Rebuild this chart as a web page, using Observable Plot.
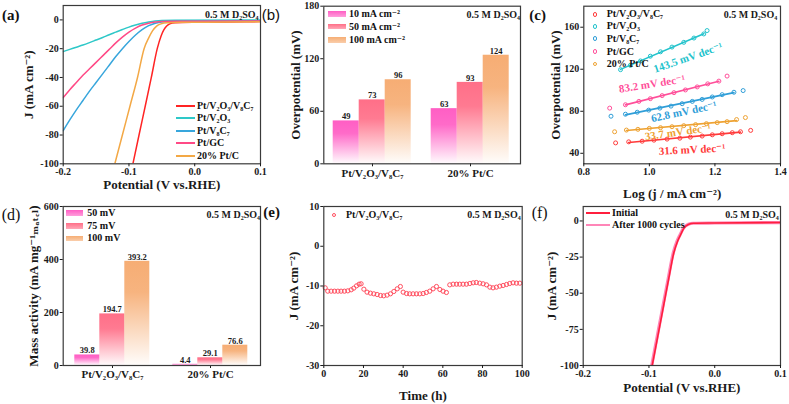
<!DOCTYPE html>
<html><head><meta charset="utf-8">
<script src="https://cdn.jsdelivr.net/npm/d3@7"></script>
<script src="https://cdn.jsdelivr.net/npm/@observablehq/plot@0.6"></script>
<style>
html,body{margin:0;padding:0;background:#fff;}
#root{position:relative;width:789px;height:404px;overflow:hidden;background:#fff;font-family:"Liberation Serif","Times New Roman","DejaVu Serif",serif;font-weight:bold;color:#111;}
.t{position:absolute;white-space:nowrap;line-height:1;}
.sw{position:absolute;box-sizing:border-box;}
</style></head><body><div id="root"></div>
<script>
// ---------------- DATA ----------------
// (a) LSV curves: [potential V, J mA cm-2]
const lsvNames = ["Pt/V₂O₃/V₈C₇","Pt/V₂O₃","Pt/V₈C₇","Pt/GC","20% Pt/C"];
const lsvColors = ["#ff2424","#2ec8c8","#38a6dc","#ff4a86","#f3a845"];
const lsvPtV2O3V8C7 = [[-0.094,-100],[-0.0847,-80],[-0.0753,-60],[-0.066,-40],[-0.057,-20],[-0.051,-11],[-0.047,-7],[-0.043,-4.5],[-0.038,-2.8],[-0.03,-2],[0,-1.6],[0.05,-1.4],[0.1,-1.2]];
const lsvPtV2O3 = [[-0.2,-22],[-0.19,-20.5],[-0.18,-19],[-0.17,-17.5],[-0.16,-15.8],[-0.15,-14],[-0.14,-12.2],[-0.13,-10.3],[-0.12,-8.5],[-0.11,-6.7],[-0.1,-5],[-0.09,-3.6],[-0.08,-2.4],[-0.07,-1.5],[-0.06,-0.8],[-0.05,-0.4],[-0.03,-0.2],[0.1,-0.1]];
const lsvPtV8C7 = [[-0.2,-77],[-0.19,-69.5],[-0.18,-62.5],[-0.17,-56],[-0.16,-49.5],[-0.15,-43.5],[-0.14,-37.5],[-0.13,-31.5],[-0.12,-25.5],[-0.11,-20],[-0.1,-15],[-0.09,-10.5],[-0.08,-6.8],[-0.07,-4],[-0.06,-2.3],[-0.05,-1.4],[-0.03,-0.9],[0.1,-0.7]];
const lsvPtGC = [[-0.2,-54],[-0.19,-48.5],[-0.18,-43.5],[-0.17,-38.5],[-0.16,-34],[-0.15,-29.5],[-0.14,-25],[-0.13,-20.5],[-0.12,-16],[-0.11,-12],[-0.1,-8.5],[-0.09,-5.7],[-0.08,-3.6],[-0.07,-2.3],[-0.06,-1.5],[-0.05,-1.1],[-0.03,-0.9],[0.1,-0.8]];
const lsvPtC20 = [[-0.1215,-100],[-0.11,-80],[-0.0985,-60],[-0.087,-40],[-0.077,-20],[-0.07,-12.5],[-0.064,-7.5],[-0.058,-4.3],[-0.051,-2.7],[-0.042,-2],[-0.02,-1.7],[0.05,-1.5],[0.1,-1.3]];

// (b) overpotential (mV)
const etaCats = ["Pt/V₂O₃/V₈C₇","20% Pt/C"];
const etaSeries = ["10 mA cm⁻²","50 mA cm⁻²","100 mA cm⁻²"];
const etaPtV = [49,73,96];
const etaPtC = [63,93,124];
const barColors = ["#ff5ec4","#ff6f88","#f6ad74"];

// (c) Tafel: [log j, overpotential mV]
const tafelNames = ["Pt/V₂O₃/V₈C₇","Pt/V₂O₃","Pt/V₈C₇","Pt/GC","20% Pt/C"];
const tafelColors = ["#ff3b3b","#22c3cc","#2f9ed8","#ff4f9a","#eea232"];
const tafelPtV2O3V8C7 = [[0.897,49.9],[0.937,50.9],[0.978,51.5],[1.014,52.5],[1.054,53.5],[1.093,54.4],[1.125,55.4],[1.161,56.4],[1.192,57.6],[1.222,58.6],[1.253,59.6],[1.278,60.5],[1.309,61.8]];
const tafelPtV2O3 = [[0.912,119.6],[0.942,123.7],[0.973,127.9],[1.003,132.4],[1.034,136.6],[1.069,141.1],[1.105,145.6],[1.136,149.7],[1.166,153.6],[1.176,156.8]];
const tafelPtV8C7 = [[0.883,75.3],[0.927,77.2],[0.963,79.1],[0.998,81.1],[1.032,83.0],[1.066,84.9],[1.1,87.2],[1.131,89.4],[1.161,91.3],[1.192,93.6],[1.222,95.8],[1.258,98.1],[1.286,99.7]];
const tafelPtGC = [[0.879,83.0],[0.927,86.2],[0.968,89.4],[1.003,92.0],[1.039,94.9],[1.075,97.7],[1.110,100.3],[1.146,103.2],[1.178,106.1],[1.212,108.7],[1.237,113.5]];
const tafelPtC20 = [[0.894,60.5],[0.930,62.1],[0.965,62.8],[1.0,63.7],[1.034,64.4],[1.069,65.3],[1.105,66.3],[1.141,67.3],[1.174,68.2],[1.207,69.2],[1.237,70.1],[1.266,72.1],[1.293,74.0]];
const tafelFit = [[1,11],[0,8],[1,11],[1,9],[1,11]];
const slopeLabels = ["31.6 mV dec⁻¹","143.5 mV dec⁻¹","62.8 mV dec⁻¹","83.2 mV dec⁻¹","33.7 mV dec⁻¹"];
const slopeX = [1.13,1.118,1.105,1.008,1.087];
const slopeY = [43.5,131,79.5,106,60.2];
const slopeAngle = [-3,-19,-12,-9,-8];

// (d) mass activity
const massCats = ["Pt/V₂O₃/V₈C₇","20% Pt/C"];
const massSeries = ["50 mV","75 mV","100 mV"];
const massPtV = [39.8,194.7,393.2];
const massPtC = [4.4,29.1,76.6];

// (e) stability
const stabT = [0.7,2.0,3.7,5.4,7.1,8.7,10.4,12.1,13.8,15.1,16.5,17.8,18.8,20.2,21.8,23.5,25.2,26.9,28.6,30.2,31.9,33.6,35.3,37.0,38.6,40.0,41.7,43.3,45.0,46.7,48.4,50.1,51.7,53.4,55.1,56.8,58.5,60.1,61.8,63.5,65.2,66.9,68.5,70.2,71.9,73.6,75.3,76.9,78.6,80.3,82.0,83.7,85.3,87.0,88.7,90.4,92.1,93.7,95.4,97.1,98.8];
const stabJ = [-10.46,-11.3,-11.3,-11.3,-11.3,-11.3,-11.3,-11.22,-10.96,-10.54,-9.96,-9.54,-9.45,-10.8,-11.55,-11.8,-11.97,-12.14,-12.39,-12.47,-12.3,-11.97,-11.38,-10.71,-10.13,-11.55,-11.89,-11.97,-11.97,-11.97,-11.97,-11.89,-11.63,-11.3,-10.71,-10.13,-10.88,-11.3,-11.63,-9.71,-9.54,-9.54,-9.54,-9.54,-9.54,-9.37,-9.2,-9.12,-9.29,-9.45,-9.71,-10.29,-10.46,-10.29,-10.04,-9.87,-9.62,-9.37,-9.2,-9.29,-9.29];

// (f) LSV before / after cycling
const cycNames = ["Initial","After 1000 cycles"];
const cycInitial = [[-0.0951,-100],[-0.0867,-80],[-0.0783,-60],[-0.07,-40],[-0.0622,-22],[-0.0565,-14],[-0.052,-9.6],[-0.047,-5.1],[-0.0394,-2.3],[-0.032,-1.6],[0,-1.4],[0.1,-1.1]];
const cycAfter = [[-0.0958,-100],[-0.0875,-80],[-0.0792,-60],[-0.0708,-40],[-0.063,-22],[-0.0573,-14],[-0.0528,-9.6],[-0.0478,-5.1],[-0.04,-2.3],[-0.033,-1.6],[0,-1.4],[0.1,-1.1]];

// ---------------- HELPERS ----------------
const SERIF = '"Liberation Serif","Times New Roman","DejaVu Serif",serif';
const root = document.getElementById("root");
function put(node, left, top){ node.style.position="absolute"; node.style.left=left+"px"; node.style.top=top+"px"; root.appendChild(node); }
function txt(s, x, cy, size, o={}){ const d=document.createElement("div"); d.className="t"; d.textContent=s; d.style.left=x+"px"; d.style.top=cy+"px"; d.style.fontSize=size+"px"; d.style.transform="translate(0,-50%)"; if(o.weight) d.style.fontWeight=o.weight; if(o.family) d.style.fontFamily=o.family; root.appendChild(d); }
function lineSw(x1,x2,cy,color,w){ const d=document.createElement("div"); d.className="sw"; Object.assign(d.style,{left:x1+"px",top:(cy-w/2)+"px",width:(x2-x1)+"px",height:w+"px",background:color}); root.appendChild(d); }
function circSw(cx,cy,r,color){ const d=document.createElement("div"); d.className="sw"; Object.assign(d.style,{left:(cx-r)+"px",top:(cy-r)+"px",width:(2*r)+"px",height:(2*r)+"px",border:"1.2px solid "+color,borderRadius:"50%"}); root.appendChild(d); }
function rectSw(x1,x2,y1,y2,color){ const d=document.createElement("div"); d.className="sw"; Object.assign(d.style,{left:x1+"px",top:y1+"px",width:(x2-x1)+"px",height:(y2-y1)+"px",background:`linear-gradient(${color}, ${color}99)`}); root.appendChild(d); }
function addGrad(svg, prefix, colors){ const ns="http://www.w3.org/2000/svg"; const defs=document.createElementNS(ns,"defs"); colors.forEach((c,i)=>{ const g=document.createElementNS(ns,"linearGradient"); g.setAttribute("id",prefix+i); g.setAttribute("x1","0"); g.setAttribute("y1","0"); g.setAttribute("x2","0"); g.setAttribute("y2","1"); [[0,1],[0.3,0.92],[1,0.03]].forEach(([o,op])=>{ const st=document.createElementNS(ns,"stop"); st.setAttribute("offset",o); st.setAttribute("stop-color",c); st.setAttribute("stop-opacity",op); g.appendChild(st); }); defs.appendChild(g); }); svg.insertBefore(defs, svg.firstChild); }
const base = (w,h,ml,mr,mt,mb) => ({width:w,height:h,marginLeft:ml,marginRight:mr,marginTop:mt,marginBottom:mb,
  style:{fontFamily:SERIF,fontSize:"10px",fontWeight:"bold",color:"#1a1a1a",background:"transparent",overflow:"visible"}});
const FR = {stroke:"#3a3a3a",strokeWidth:1.2};
const fmt1 = d => d.toFixed(1);
const fmt0 = d => String(d);
const xLabel = (s, dy, dx=0) => Plot.text([s],{frameAnchor:"bottom",dy,dx,textAnchor:"middle",lineAnchor:"middle",fontSize:13});
const yLabel = (s, dx) => Plot.text([s],{frameAnchor:"left",dx,rotate:-90,textAnchor:"middle",lineAnchor:"middle",fontSize:13});
const elec = (dx, dy) => Plot.text(["0.5 M D₂SO₄"],{frameAnchor:"top-right",dx,dy,textAnchor:"end",lineAnchor:"middle",fontSize:10});

// ---------------- (a) ----------------
const rowsA = [lsvPtV2O3V8C7,lsvPtV2O3,lsvPtV8C7,lsvPtGC,lsvPtC20].flatMap((s,i)=>s.map(([E,J])=>({name:lsvNames[i],E,J})));
const pa = Plot.plot({...base(265,200,62.7,5,5,36.7),
  x:{domain:[-0.2,0.1]}, y:{domain:[-100,10]},
  color:{domain:lsvNames, range:lsvColors},
  marks:[
    Plot.line(rowsA,{x:"E",y:"J",z:"name",stroke:"name",curve:"monotone-x",strokeWidth:1.5,clip:true}),
    Plot.frame(FR),
    Plot.axisX({ticks:[-0.2,-0.1,0,0.1],tickFormat:fmt1,tickSize:3,tickPadding:1,label:null}),
    Plot.axisY({ticks:[-100,-80,-60,-40,-20,0],tickFormat:fmt0,tickSize:3,tickPadding:1.5,label:null}),
    xLabel("Potential (V vs.RHE)",21),
    yLabel("J (mA cm⁻²)",-34.4),
    elec(-2,9)
  ]});
put(pa,0,0);

// ---------------- bar panels (b), (d) ----------------
function barPanel(cats, series, vals, yDomain, yTicks, fmt, ylab, gradId, dims, left, top, elecPos){
  const rows = cats.flatMap((c,ci)=>series.map((s,si)=>({cat:c,series:s,value:vals[ci][si]})));
  const bars = Plot.plot({...base(...dims),
    fx:{domain:cats,paddingInner:0.2,paddingOuter:0.1,label:null},
    x:{domain:series,padding:0,axis:null}, y:{domain:yDomain,axis:null},
    marks:[
      ...series.map((s,i)=>Plot.barY(rows.filter(d=>d.series===s),{fx:"cat",x:"series",y:"value",fill:`url(#${gradId}${i})`})),
      Plot.text(rows,{fx:"cat",x:"series",y:"value",text:d=>fmt(d.value),lineAnchor:"bottom",dy:-1.5,fontSize:8.5}),
      Plot.axisFx({anchor:"bottom",tickSize:3,tickPadding:2,fontSize:11,label:null})
    ]});
  addGrad(bars,gradId,barColors);
  const frame = Plot.plot({...base(...dims),
    y:{domain:yDomain},
    marks:[
      Plot.frame(FR),
      Plot.axisY({ticks:yTicks,tickFormat:fmt0,tickSize:3,tickPadding:1.5,label:null}),
      yLabel(ylab, dims[2]===62.7 ? -29.4 : -28.3),
      elec(elecPos[0],elecPos[1])
    ]});
  put(bars,left,top); put(frame,left,top);
}
barPanel(etaCats, etaSeries, [etaPtV,etaPtC], [0,180], [0,60,120,180], d=>String(d), "Overpotential (mV)", "gb", [260,200,58.3,5,5.7,36.7], 265, 0, [-0.5,8.3]);
barPanel(massCats, massSeries, [massPtV,massPtC], [0,600], [0,200,400,600], d=>d.toFixed(1), "Mass activity (mA mg⁻¹ₘₐₜₑₗ)", "gd", [265,204,62.7,5,6,39], 0, 200, [-0.5,8]);

// ---------------- (c) ----------------
const rowsC = [tafelPtV2O3V8C7,tafelPtV2O3,tafelPtV8C7,tafelPtGC,tafelPtC20].flatMap((s,i)=>s.map(([x,y],j)=>({name:tafelNames[i],x,y,fit:j>=tafelFit[i][0]&&j<=tafelFit[i][1]})));
const slopeRows = slopeLabels.map((l,i)=>({label:l,x:slopeX[i],y:slopeY[i],angle:slopeAngle[i],name:tafelNames[i]}));
const pc = Plot.plot({...base(264,200,58.3,9,5.7,36.7),
  x:{domain:[0.8,1.4]}, y:{domain:[30,180]},
  color:{domain:tafelNames, range:tafelColors},
  marks:[
    Plot.linearRegressionY(rowsC.filter(d=>d.fit),{x:"x",y:"y",stroke:"name",ci:0,strokeWidth:1.6}),
    Plot.dot(rowsC,{x:"x",y:"y",stroke:"name",r:2,strokeWidth:1}),
    Plot.text(slopeRows,{x:"x",y:"y",text:"label",rotate:"angle",fill:"name",fontSize:11}),
    Plot.frame(FR),
    Plot.axisX({ticks:[0.8,1.0,1.2,1.4],tickFormat:fmt1,tickSize:3,tickPadding:1,label:null}),
    Plot.axisY({ticks:[40,80,120,160],tickFormat:fmt0,tickSize:3,tickPadding:1.5,label:null}),
    xLabel("Log (j / mA cm⁻²)",30,-10),
    yLabel("Overpotential (mV)",-28.3),
    elec(-3.3,8.3)
  ]});
put(pc,525,0);

// ---------------- (e) ----------------
const rowsE = stabT.map((t,i)=>({t,J:stabJ[i]}));
const pe = Plot.plot({...base(260,204,58.3,3.3,6,39),
  x:{domain:[0,100]}, y:{domain:[-30,10]},
  marks:[
    Plot.dot(rowsE,{x:"t",y:"J",stroke:"#ff4d5e",r:2.1,strokeWidth:1}),
    Plot.frame(FR),
    Plot.axisX({ticks:[0,20,40,60,80,100],tickFormat:fmt0,tickSize:3,tickPadding:1.5,label:null}),
    Plot.axisY({ticks:[-30,-20,-10,0,10],tickFormat:fmt0,tickSize:3,tickPadding:1.5,label:null}),
    xLabel("Time (h)",30),
    yLabel("J (mA cm⁻²)",-30),
    elec(-1.5,8)
  ]});
put(pe,265,200);

// ---------------- (f) ----------------
const rowsF = [cycInitial,cycAfter].flatMap((s,i)=>s.map(([E,J])=>({name:cycNames[i],E,J})));
const pf = Plot.plot({...base(264,204,57.7,9,6,39),
  x:{domain:[-0.2,0.1]}, y:{domain:[-100,10]},
  marks:[
    Plot.line(rowsF.filter(d=>d.name===cycNames[1]),{x:"E",y:"J",stroke:"#ff86b8",strokeWidth:3.2,curve:"monotone-x",clip:true}),
    Plot.line(rowsF.filter(d=>d.name===cycNames[0]),{x:"E",y:"J",stroke:"#ff1f3d",strokeWidth:1.6,curve:"monotone-x",clip:true}),
    Plot.frame(FR),
    Plot.axisX({ticks:[-0.2,-0.1,0,0.1],tickFormat:fmt1,tickSize:3,tickPadding:1,label:null}),
    Plot.axisY({ticks:[-100,-75,-50,-25,0],tickFormat:fmt0,tickSize:3,tickPadding:1.5,label:null}),
    xLabel("Potential (V vs.RHE)",22.5),
    yLabel("J (mA cm⁻²)",-31),
    elec(-1.7,8)
  ]});
put(pf,525,200);

// ---------------- panel labels ----------------
txt("(a)",2,14.5,15);
txt("(b)",261.7,14,15,{weight:"normal",family:'"Liberation Sans",Arial,sans-serif'});
txt("(c)",529.3,14.5,15);
txt("(d)",1.7,215,16,{weight:"normal"});
txt("(e)",263.3,212,15);
txt("(f)",531.7,213,16,{weight:"normal"});

// ---------------- legends ----------------
[106,118.3,130.7,143.3,155.7].forEach((cy,i)=>{ lineSw(175.7,195,cy,lsvColors[i],2); txt(lsvNames[i],197,cy,10); });
[[10.7,16.7],[24,29.3],[37.3,43.3]].forEach(([y1,y2],i)=>{ rectSw(328.3,346,y1,y2,barColors[i]); txt(etaSeries[i],349,(y1+y2)/2,10); });
[14.3,26.2,38.8,51.5,64].forEach((cy,i)=>{ circSw(595,cy,2.4,tafelColors[i]); txt(tafelNames[i],606.7,cy,10); });
[[210,215.5],[223.3,228.8],[235.7,241.2]].forEach(([y1,y2],i)=>{ rectSw(65.7,83.3,y1,y2,barColors[i]); txt(massSeries[i],87.3,(y1+y2)/2,10); });
circSw(334,215,2.4,"#ff4d5e"); txt("Pt/V₂O₃/V₈C₇",346,215,10);
lineSw(586,610,212.7,"#ff1f3d",2); txt(cycNames[0],612,212.7,10);
lineSw(586,610,225,"#ff86b8",2.5); txt(cycNames[1],612,225,10);
</script></body></html>
